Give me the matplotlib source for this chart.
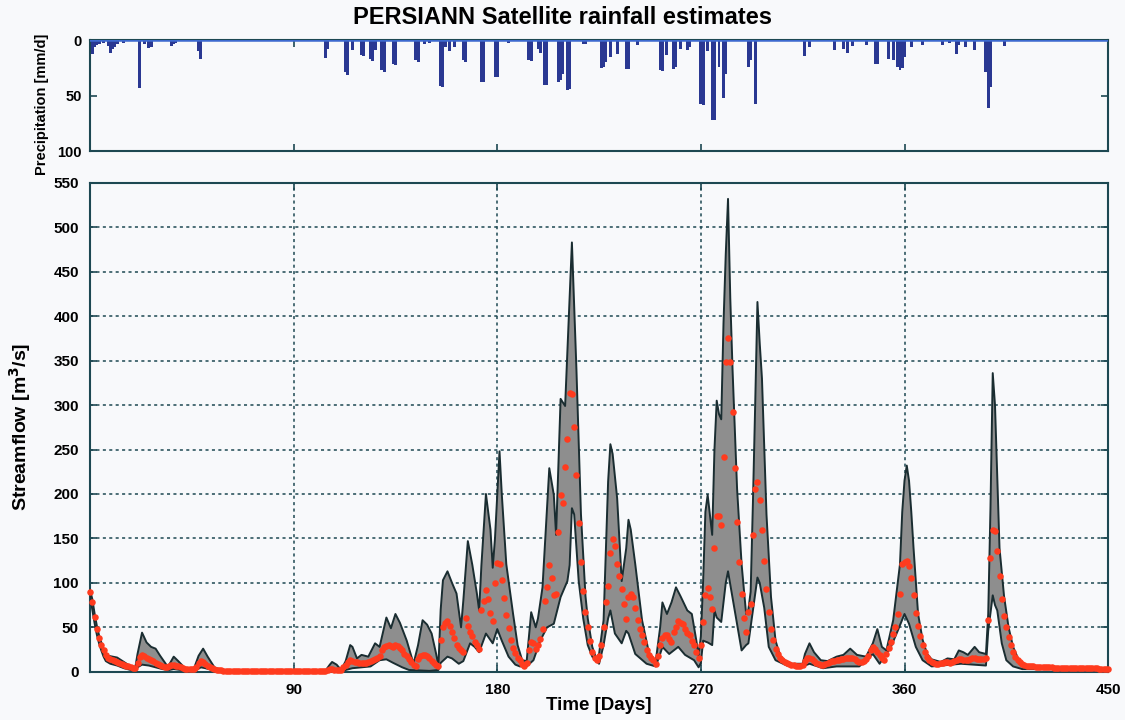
import numpy as np
import matplotlib
matplotlib.use("Agg")
import matplotlib.pyplot as plt

plt.rcParams['font.family'] = ['Liberation Sans', 'DejaVu Sans']
plt.rcParams['font.weight'] = 'bold'

# ---------------------------------------------------------------------------
# Observed daily streamflow [m3/s], day 0 .. 450
obs_flow = [
    90, 78, 62, 48, 38, 30, 24, 19, 16, 14,
    13, 12, 11, 10, 9, 8, 7, 6, 5, 4,
    4, 10, 17, 19, 18, 16, 14, 13, 12, 10,
    9, 8, 6, 5, 5, 6, 8, 8, 7, 6,
    5, 4, 3, 3, 3, 3, 3, 5, 10, 12,
    11, 9, 7, 5, 4, 3, 2, 2, 1.5, 1.4,
    1.3, 1.2, 1.2, 1.1, 1.1, 1.0, 1.0, 1.0, 1.0, 0.9,
    0.9, 0.9, 0.9, 0.9, 0.9, 0.9, 0.8, 0.8, 0.8, 0.8,
    0.8, 0.8, 0.8, 0.8, 0.8, 0.8, 0.8, 0.7, 0.7, 0.7,
    0.7, 0.7, 0.7, 0.7, 0.7, 0.7, 0.7, 0.7, 0.7, 0.7,
    0.7, 0.7, 0.7, 0.7, 0.8, 1.5, 3, 3, 2.5, 2,
    1.5, 2, 5, 8, 11, 13, 12, 11, 11, 10,
    10, 10, 10, 11, 12, 13, 14, 16, 18, 24,
    28, 29, 30, 29, 28, 30, 29, 27, 24, 20,
    18, 14, 11, 8, 6, 14, 18, 19, 19, 18,
    15, 12, 10, 8, 6, 36, 50, 55, 57, 52,
    45, 38, 30, 27, 24, 22, 60, 52, 45, 40,
    34, 30, 26, 69, 80, 92, 82, 66, 57, 100,
    122, 121, 103, 83, 64, 49, 36, 27, 21, 16,
    13, 9, 6, 10, 24, 33, 32, 26, 30, 37,
    48, 80, 95, 120, 105, 86, 87, 157, 199, 190,
    230, 262, 314, 313, 275, 221, 167, 123, 91, 67,
    50, 35, 22, 16, 13, 18, 30, 50, 78, 97,
    134, 149, 141, 121, 108, 93, 76, 59, 84, 87,
    84, 72, 58, 48, 41, 33, 25, 19, 15, 13,
    9, 18, 30, 38, 41, 41, 37, 33, 45, 50,
    57, 55, 54, 48, 44, 41, 35, 30, 22, 15,
    30, 56, 86, 94, 84, 71, 139, 175, 175, 165,
    242, 348, 375, 348, 292, 229, 169, 123, 87, 61,
    45, 67, 76, 154, 206, 214, 193, 159, 125, 93,
    67, 48, 36, 26, 20, 16, 13, 11, 10, 9,
    8, 8, 7, 7, 7, 8, 12, 15, 15, 14,
    12, 10, 9, 8, 8, 9, 10, 11, 12, 12,
    13, 13, 14, 14, 15, 15, 16, 15, 14, 12,
    11, 11, 12, 14, 18, 24, 28, 26, 22, 19,
    15, 13, 20, 27, 33, 42, 50, 65, 87, 121,
    123, 125, 119, 106, 86, 66, 51, 40, 30, 22,
    17, 13, 11, 10, 9, 9, 10, 10, 11, 11,
    10, 11, 12, 13, 14, 14, 13, 13, 13, 14,
    15, 15, 14, 14, 14, 14, 15, 58, 128, 160,
    158, 136, 108, 82, 63, 50, 39, 30, 22, 17,
    13, 11, 9, 8, 7, 6.5, 6, 6, 5.5, 5.5,
    5.3, 5.2, 5.1, 5.0, 4.9, 4.8, 4.7, 4.6, 4.6, 4.5,
    4.4, 4.4, 4.3, 4.2, 4.2, 4.1, 4.1, 4.0, 4.0, 3.9,
    3.9, 3.8, 3.8, 3.8, 3.7, 3.7, 3.6, 3.6, 3.6, 3.5,
    3.5,
]
obs_day = list(range(len(obs_flow)))

# Upper bound of the simulated streamflow uncertainty band
upper_day = [0, 1, 2, 3, 4, 5, 6, 7, 8, 10, 12, 15, 18, 20, 21, 23, 25, 27,
             29, 31, 34, 35, 37, 39, 42, 46, 48, 50, 52, 55, 57, 60, 70, 80,
             90, 104, 106, 107, 109, 111, 113, 115, 116, 118, 120, 123, 126,
             128, 131, 133, 135, 137, 140, 143, 145, 147, 149, 151, 153, 154,
             155, 156, 158, 160, 162, 164, 165, 167, 169, 171, 172, 173, 175,
             177, 178, 179, 181, 182, 184, 187, 189, 191, 193, 195, 197, 198,
             200, 203, 205, 206, 208, 210, 213, 215, 217, 219, 220, 222, 224,
             225, 227, 229, 230, 231, 233, 235, 237, 238, 239, 241, 244, 247,
             250, 252, 253, 255, 257, 259, 261, 264, 266, 268, 269, 270, 271,
             272, 273, 274, 275, 276, 277, 278, 279, 280, 281, 282, 283, 284,
             286, 288, 290, 291, 292, 293, 294, 295, 296, 297, 299, 301, 303,
             305, 307, 310, 315, 316, 318, 320, 323, 326, 330, 333, 336, 339,
             341, 343, 346, 348, 350, 352, 355, 358, 359, 360, 361, 362, 363,
             364, 366, 368, 370, 372, 376, 379, 382, 384, 386, 388, 391, 393,
             396, 397, 398, 399, 400, 401, 402, 404, 406, 408, 410, 412, 414,
             420, 450]
upper_flow = [92, 82, 66, 52, 41, 33, 26, 21, 18, 17, 16, 11, 6, 4.5, 20, 44,
              33, 28, 26, 18, 7, 8, 17, 12, 4, 4, 18, 26, 17, 5, 3, 2, 1.2, 1,
              1, 1, 8, 11, 8, 2, 12, 30, 28, 15, 19, 17, 32,
              28, 61, 49, 65, 55, 35, 9, 30, 58, 53, 43, 20, 7,
              70, 103, 113, 100, 88, 50, 80, 147, 120, 88, 69, 120, 200,
              160, 117, 150, 248, 200, 121, 65, 30, 13, 12, 67, 50, 60,
              95, 229, 199, 154, 307, 299, 483, 340, 177, 85, 60, 28, 13,
              20, 58, 214, 256, 245, 195, 102, 139, 171, 160, 121, 58, 22,
              11, 50, 78, 65, 78, 95, 85, 69, 65, 35, 18, 40, 102,
              180, 199, 177, 154, 250, 305, 290, 284, 392, 470, 532, 420, 340,
              206, 121, 65, 70, 90, 190, 300, 416, 370, 330, 177, 84, 35,
              18, 13, 9, 9, 20, 32, 22, 13, 12, 17, 19, 26, 19,
              18, 17, 32, 48, 28, 24, 58, 121, 180, 215, 232, 215, 180,
              139, 65, 36, 20, 14, 11, 15, 14, 24, 22, 19, 28, 22,
              20, 65, 184, 336, 300, 220, 139, 85, 50, 28, 16, 10, 7,
              5.5, 3.8]

# Lower bound of the simulated streamflow uncertainty band
lower_day = [0, 1, 2, 3, 4, 5, 6, 7, 9, 12, 15, 18, 20, 21, 23, 26, 29, 32,
             35, 37, 40, 43, 47, 49, 51, 54, 57, 60, 104, 107, 110, 113, 116,
             120, 124, 128, 131, 134, 138, 141, 150, 154, 155, 158, 160, 163,
             165, 168, 170, 172, 175, 178, 180, 182, 185, 188, 190, 193, 196,
             199, 202, 205, 208, 211, 212, 213, 214, 216, 218, 220, 222, 225,
             227, 229, 230, 232, 235, 237, 238, 241, 246, 250, 252, 253, 256,
             260, 263, 267, 269, 270, 271, 273, 275, 276, 277, 279, 281, 282,
             283, 286, 288, 290, 291, 293, 295, 296, 298, 300, 303, 308, 315,
             318, 324, 330, 340, 346, 349, 354, 357, 360, 362, 365, 368, 372,
             385, 396, 397, 399, 400, 401, 403, 405, 408, 412, 450]
lower_flow = [86, 70, 55, 42, 32, 24, 17, 12, 9, 7, 4, 2, 1.5, 5, 8, 7, 5, 3,
              2, 3, 2, 1.5, 2, 5, 4, 2, 1, 0.8, 0.5, 2, 0.5, 2, 4,
              5, 6, 13, 14, 10, 5, 2, 1, 2, 10, 17, 15, 9,
              12, 32, 28, 22, 43, 32, 48, 35, 17, 8, 6, 6, 13,
              35, 50, 54, 84, 102, 120, 184, 177, 102, 60, 30, 17, 9,
              30, 60, 69, 43, 32, 46, 43, 20, 9, 6, 20, 28, 20,
              28, 19, 13, 5, 10, 35, 33, 30, 69, 61, 56, 100, 113,
              98, 54, 24, 30, 32, 69, 106, 100, 72, 28, 13, 7, 6,
              9, 4, 6, 6, 20, 9, 28, 46, 65, 54, 28, 13, 6,
              9, 7, 46, 86, 75, 69, 32, 13, 6, 3, 2.5]

# PERSIANN daily precipitation [mm/d]
rain_day = [0, 1, 2, 3, 4, 6, 8, 9, 10, 11, 12, 15, 17, 22, 24, 26, 27, 36,
            37, 38, 48, 49, 104, 105, 113, 114, 116, 120, 121, 124, 125, 126,
            129, 130, 134, 135, 144, 145, 148, 150, 155, 156, 157, 159, 161,
            165, 166, 173, 174, 179, 180, 185, 194, 195, 198, 199, 201, 202,
            207, 208, 209, 211, 212, 218, 219, 226, 227, 228, 230, 233, 237,
            238, 242, 252, 253, 255, 258, 259, 261, 264, 265, 270, 271, 273,
            275, 276, 278, 280, 281, 291, 292, 294, 316, 318, 329, 333, 335,
            337, 343, 347, 348, 353, 355, 357, 358, 359, 360, 363, 368, 377,
            380, 383, 384, 387, 391, 396, 397, 398, 404]
rain_mm = [18, 12, 6, 4, 3, 2, 5, 11, 8, 6, 3, 2, 1, 43, 3, 7, 6, 5,
           3, 2, 10, 17, 16, 8, 29, 31, 9, 13, 14, 17, 19, 9,
           27, 29, 21, 22, 18, 20, 3, 2, 41, 42, 6, 10, 6,
           18, 20, 38, 38, 33, 33, 2, 18, 19, 8, 11, 40, 40,
           38, 36, 30, 45, 44, 3, 3, 25, 24, 20, 15, 12, 26,
           26, 4, 27, 28, 13, 26, 24, 8, 9, 6, 57, 58, 10,
           72, 72, 24, 52, 30, 24, 18, 57, 14, 6, 9, 8, 11,
           5, 4, 21, 21, 17, 18, 24, 27, 25, 15, 6, 4, 4,
           2, 12, 4, 6, 9, 29, 61, 42, 5]

day_ticks = [90, 180, 270, 360, 450]
flow_ticks = list(range(0, 551, 50))
rain_ticks = [0, 50, 100]

# ---------------------------------------------------------------------------
bg = '#f8f9fb'
frame = '#1d4852'
band_fill = '#8e8e8e'
band_edge = '#1a2d31'
obs_red = '#ff3b1e'
rain_blue = '#2a3892'

fig = plt.figure(figsize=(11.25, 7.2), dpi=100, facecolor=bg)

# --- precipitation panel (hanging bars) ---
ax_r = fig.add_axes([0.080, 0.790, 0.905, 0.154], facecolor=bg)
ax_r.bar(rain_day, rain_mm, width=1.3, color=rain_blue, linewidth=0,
         align='center', zorder=2)
ax_r.axhline(0, color='#3d6ad0', lw=1.8, zorder=3)
ax_r.set_xlim(0, 450)
ax_r.set_ylim(100, 0)
ax_r.set_yticks(rain_ticks)
ax_r.set_xticks(day_ticks[:-1])
ax_r.set_xticklabels([])
ax_r.tick_params(direction='in', top=True, right=True, length=5, width=1.2,
                 color=frame, labelsize=10.5, pad=6)
for s in ax_r.spines.values():
    s.set_color(frame)
    s.set_linewidth(1.5)
ax_r.set_ylabel('Precipitation [mm/d]', fontsize=10.5, fontweight='bold')
ax_r.yaxis.set_label_coords(-0.040, 0.42)

# --- streamflow panel ---
ax_q = fig.add_axes([0.080, 0.067, 0.905, 0.679], facecolor=bg)
band_x = upper_day + lower_day[::-1]
band_y = upper_flow + lower_flow[::-1]
ax_q.fill(band_x, band_y, color=band_fill, lw=0, zorder=2)
ax_q.plot(upper_day, upper_flow, color=band_edge, lw=1.4, zorder=3)
ax_q.plot(lower_day, lower_flow, color=band_edge, lw=1.4, zorder=3)
ax_q.scatter(obs_day, obs_flow, s=22, color=obs_red, linewidths=0,
             zorder=4, clip_on=False)

ax_q.set_xlim(0, 450)
ax_q.set_ylim(0, 550)
ax_q.set_xticks(day_ticks)
ax_q.set_yticks(flow_ticks)
ax_q.grid(True, color=frame, linestyle=(0, (2, 2.2)), linewidth=1.1, zorder=1)
ax_q.set_axisbelow(True)
ax_q.tick_params(direction='in', top=True, right=True, length=5, width=1.2,
                 color=frame, labelsize=11, pad=8)
for s in ax_q.spines.values():
    s.set_color(frame)
    s.set_linewidth(1.5)
ax_q.set_xlabel('Time [Days]', fontsize=13.5, fontweight='bold')
ax_q.xaxis.set_label_coords(0.5, -0.052)
ax_q.set_ylabel('Streamflow [m$^{\\mathbf{3}}$/s]', fontsize=14,
                fontweight='bold')
ax_q.yaxis.set_label_coords(-0.056, 0.5)

fig.text(0.5, 0.975, 'PERSIANN Satellite rainfall estimates',
         ha='center', va='center', fontsize=17, fontweight='bold')

fig.savefig('out.png', dpi=100, facecolor=bg)
